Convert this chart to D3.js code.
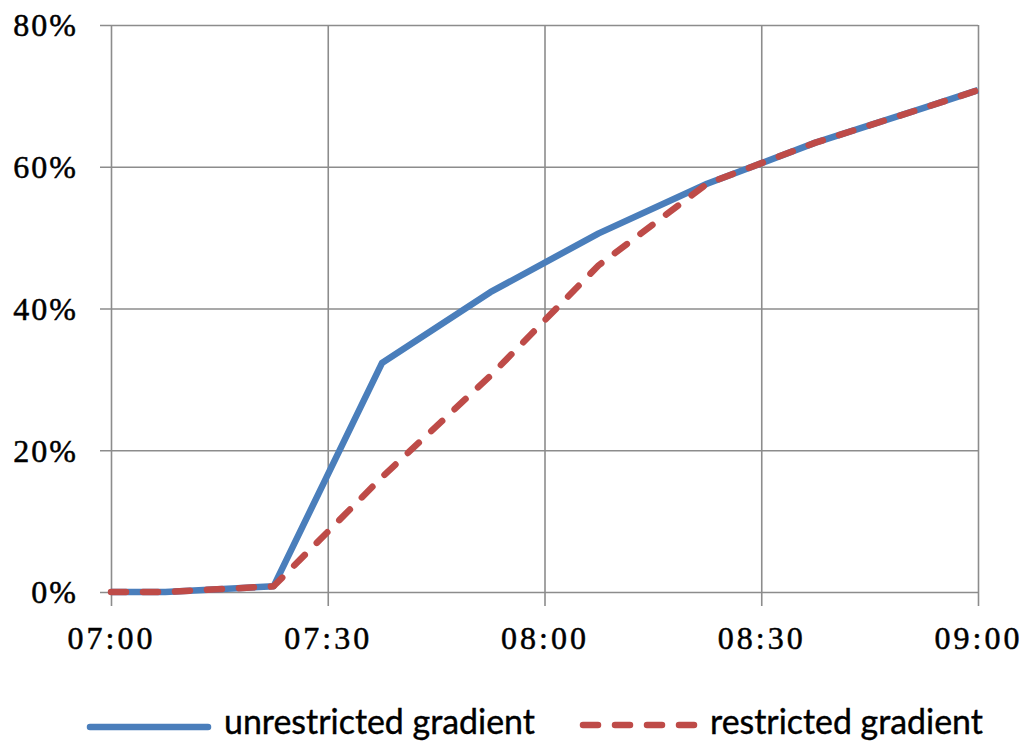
<!DOCTYPE html>
<html>
<head>
<meta charset="utf-8">
<script src="https://cdn.jsdelivr.net/npm/d3@7"></script>
<style>
  html, body { margin: 0; padding: 0; background: #fff; }
  svg { display: block; }
</style>
</head>
<body>
<svg id="chart" width="1027" height="742"></svg>
<script>
// ---- data ----
const times = ["07:00:00", "07:07:30", "07:22:30", "07:37:30", "07:52:30",
               "08:07:30", "08:22:30", "08:37:30", "08:52:30", "09:00:00"];
const unrestricted = [0, 0, 0.8, 32.3, 42.3, 50.6, 57.6, 63.4, 68.3, 70.8];
const restricted   = [0, 0, 0.8, 16.2, 30.5, 46.1, 57.6, 63.4, 68.3, 70.8];
const xTickTimes  = ["07:00:00", "07:30:00", "08:00:00", "08:30:00", "09:00:00"];
const xTickLabels = ["07:00", "07:30", "08:00", "08:30", "09:00"];
const yTicks      = [0, 20, 40, 60, 80];
const yTickLabels = ["0%", "20%", "40%", "60%", "80%"];
const seriesNames = ["unrestricted gradient", "restricted gradient"];

(function () {
// ---- layout ----
const svg = d3.select("#chart");
const pLeft = 111, pRight = 978, pTop = 25, pBottom = 592;
const parse = d3.timeParse("%H:%M:%S");

const x = d3.scaleTime()
  .domain([parse(xTickTimes[0]), parse(xTickTimes[xTickTimes.length - 1])])
  .range([pLeft, pRight]);
const y = d3.scaleLinear().domain([0, 80]).range([pBottom, pTop]);

const gridColor = "#8c8c8c";

// y axis + horizontal grid
const yAxis = d3.axisLeft(y)
  .tickValues(yTicks)
  .tickFormat((d, i) => yTickLabels[i])
  .tickSize(-(pRight - (pLeft - 11)))
  .tickPadding(22);
const gy = svg.append("g").attr("transform", `translate(${pLeft - 11},0)`).call(yAxis);
gy.select(".domain").remove();
gy.selectAll(".tick line").attr("stroke", gridColor).attr("stroke-width", 1.6);
gy.selectAll(".tick text")
  .attr("fill", "#000")
  .attr("stroke", "#000")
  .attr("stroke-width", 0.5)
  .style("font-family", "'Liberation Serif', serif")
  .style("font-size", "32px")
  .style("letter-spacing", "2px")
  .attr("dy", "0.34em");

// x axis + vertical grid
const xAxis = d3.axisBottom(x)
  .tickValues(xTickTimes.map(parse))
  .tickFormat((d, i) => xTickLabels[i])
  .tickSize(-(pBottom + 14 - pTop))
  .tickPadding(20);
const gx = svg.append("g").attr("transform", `translate(0,${pBottom + 14})`).call(xAxis);
gx.select(".domain").remove();
gx.selectAll(".tick line").attr("stroke", gridColor).attr("stroke-width", 1.6);
gx.selectAll(".tick text")
  .attr("fill", "#000")
  .attr("stroke", "#000")
  .attr("stroke-width", 0.5)
  .style("font-family", "'Liberation Serif', serif")
  .style("font-size", "32px")
  .style("letter-spacing", "3px");

// lines
const blue = "#4a7ebb", red = "#be4b48";
const line = d3.line()
  .x((d, i) => x(parse(times[i])))
  .y(d => y(d));

svg.append("path")
  .datum(unrestricted)
  .attr("d", line)
  .attr("fill", "none")
  .attr("stroke", blue)
  .attr("stroke-width", 6.5)
  .attr("stroke-linejoin", "round");

svg.append("path")
  .datum(restricted)
  .attr("d", line)
  .attr("fill", "none")
  .attr("stroke", red)
  .attr("stroke-width", 6.5)
  .attr("stroke-linecap", "round")
  .attr("stroke-dasharray", "15,17")
  .attr("stroke-linejoin", "round");

// legend
const legend = svg.append("g");
const legendItems = [
  { name: seriesNames[0], color: blue, dash: null, x1: 90, x2: 208, ly: 727, tx: 224, target: 311 },
  { name: seriesNames[1], color: red, dash: "15,17", x1: 583, x2: 698, ly: 725, tx: 710, target: 273 }
];
legendItems.forEach(it => {
  legend.append("line")
    .attr("x1", it.x1).attr("x2", it.x2)
    .attr("y1", it.ly).attr("y2", it.ly)
    .attr("stroke", it.color)
    .attr("stroke-width", 6.5)
    .attr("stroke-linecap", "round")
    .attr("stroke-dasharray", it.dash);
  const t = legend.append("text")
    .attr("x", it.tx).attr("y", 734)
    .attr("fill", "#000")
    .attr("stroke", "#000")
    .attr("stroke-width", 0.4)
    .style("font-family", "Lato, 'Open Sans', sans-serif")
    .style("font-size", "32px")
    .text(it.name);
  const w = t.node().getComputedTextLength();
  t.style("font-size", (32 * it.target / w).toFixed(2) + "px");
});
})();
</script>
</body>
</html>
